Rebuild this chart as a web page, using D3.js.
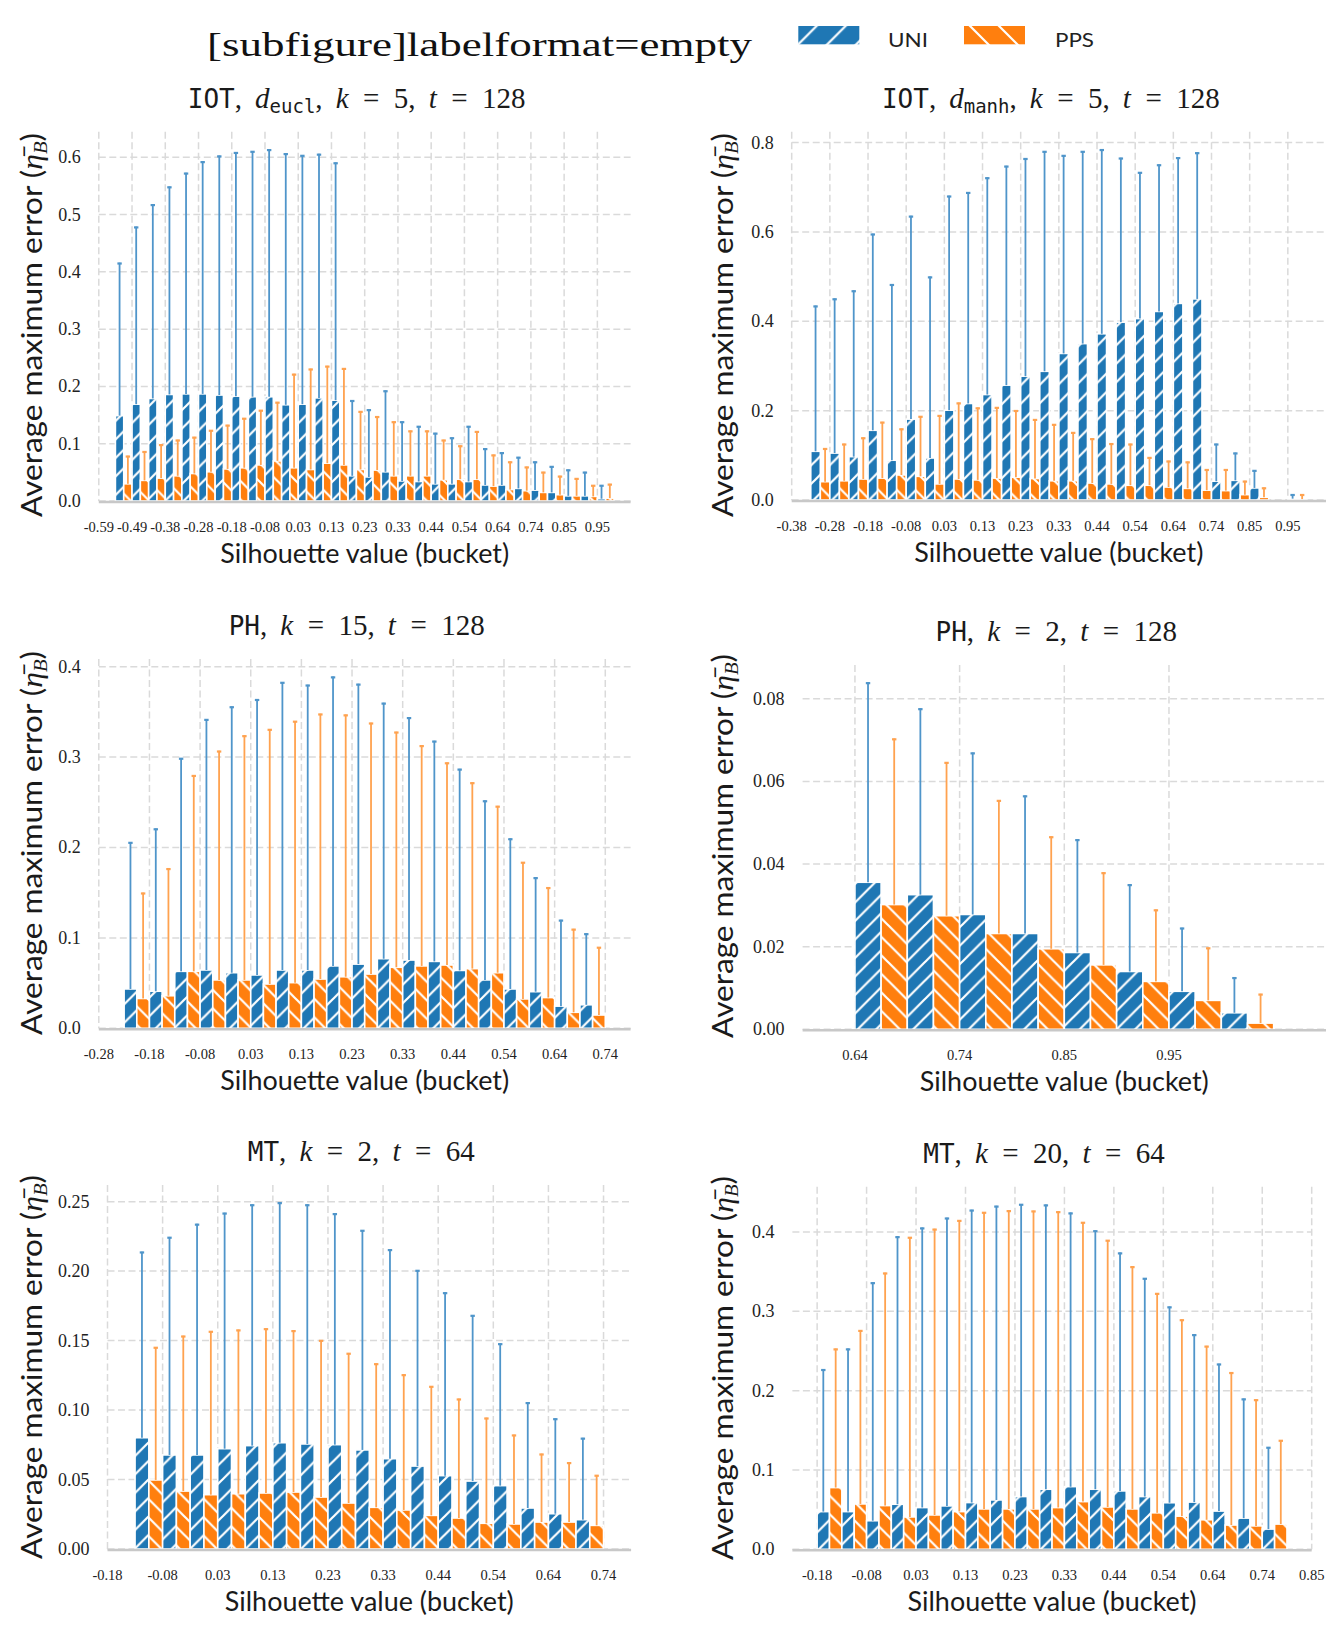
<!DOCTYPE html>
<html><head><meta charset="utf-8">
<script src="https://cdn.jsdelivr.net/npm/d3@7"></script>
<style>body{margin:0;background:#fff}</style>
</head><body>
<svg id="fig" width="1339" height="1630" xmlns="http://www.w3.org/2000/svg"></svg>
<script>
// ---------------- DATA (bucket index k: edge = -1 + k*2/39) ----------------
const seriesNames = ["UNI", "PPS"];

// IOT, d_eucl, k=5, t=128  (buckets k=9..38)
const iotEuclStart = 9;
const iotEuclUni      = [0.149,0.169,0.179,0.186,0.187,0.187,0.185,0.183,0.182,0.182,0.168,0.169,0.180,0.176,0.044,0.042,0.051,0.035,0.034,0.030,0.030,0.034,0.028,0.028,0.022,0.019,0.015,0.009,0.009,0.004];
const iotEuclUniUpper = [0.416,0.479,0.518,0.549,0.573,0.593,0.603,0.609,0.611,0.614,0.607,0.604,0.606,0.591,0.176,0.160,0.193,0.139,0.131,0.119,0.111,0.131,0.092,0.085,0.077,0.069,0.061,0.055,0.051,0.028];
const iotEuclPps      = [0.030,0.036,0.040,0.044,0.048,0.051,0.056,0.058,0.063,0.070,0.058,0.055,0.066,0.063,0.055,0.054,0.044,0.044,0.044,0.037,0.038,0.038,0.026,0.020,0.018,0.015,0.011,0.009,0.008,0.005];
const iotEuclPpsUpper = [0.079,0.087,0.099,0.107,0.112,0.124,0.133,0.145,0.159,0.173,0.222,0.231,0.236,0.232,0.157,0.148,0.139,0.123,0.123,0.107,0.097,0.122,0.081,0.069,0.060,0.051,0.044,0.040,0.028,0.030];

// IOT, d_manh, k=5, t=128  (buckets k=13..38, k=37 empty)
const iotManhStart = 13;
const iotManhUni      = [0.109,0.105,0.097,0.156,0.089,0.181,0.094,0.201,0.216,0.236,0.257,0.277,0.288,0.328,0.350,0.372,0.398,0.406,0.422,0.440,0.450,0.042,0.044,0.027,null,0.003];
const iotManhUniUpper = [0.435,0.451,0.469,0.596,0.483,0.636,0.500,0.681,0.689,0.722,0.748,0.765,0.781,0.772,0.781,0.785,0.766,0.734,0.751,0.767,0.778,0.126,0.106,0.067,null,0.013];
const iotManhPps      = [0.041,0.043,0.047,0.049,0.056,0.053,0.036,0.047,0.045,0.049,0.051,0.048,0.043,0.043,0.038,0.036,0.033,0.033,0.029,0.026,0.022,0.021,0.012,0.006,null,0.002];
const iotManhPpsUpper = [0.116,0.126,0.140,0.175,0.160,0.188,0.190,0.218,0.207,0.208,0.201,0.181,0.170,0.152,0.138,0.127,0.126,0.096,0.088,0.086,0.069,0.069,0.043,0.028,null,0.013];

// PH, k=15, t=128  (buckets k=15..33)
const ph15Start = 15;
const ph15Uni      = [0.0435,0.041,0.063,0.0645,0.0615,0.059,0.0645,0.0645,0.069,0.071,0.077,0.0755,0.074,0.064,0.0535,0.0435,0.0405,0.0245,0.026];
const ph15UniUpper = [0.206,0.221,0.299,0.342,0.356,0.364,0.383,0.380,0.389,0.381,0.360,0.344,0.318,0.287,0.252,0.210,0.167,0.120,0.105];
const ph15Pps      = [0.033,0.036,0.063,0.0535,0.0535,0.049,0.0505,0.0545,0.057,0.060,0.0675,0.069,0.070,0.066,0.0615,0.0325,0.034,0.0177,0.0147];
const ph15PpsUpper = [0.150,0.177,0.280,0.307,0.324,0.331,0.340,0.348,0.347,0.338,0.328,0.313,0.294,0.272,0.246,0.184,0.156,0.110,0.090];

// PH, k=2, t=128  (buckets k=32..39)
const ph2Start = 32;
const ph2Uni      = [0.0356,0.0326,0.0278,0.0232,0.0186,0.0140,0.0092,0.0040];
const ph2UniUpper = [0.0840,0.0777,0.0670,0.0566,0.0460,0.0351,0.0246,0.0126];
const ph2Pps      = [0.0302,0.0275,0.0232,0.0195,0.0156,0.0116,0.0070,0.0015];
const ph2PpsUpper = [0.0704,0.0647,0.0555,0.0467,0.0380,0.0290,0.0198,0.0086];

// MT, k=2, t=64  (buckets k=17..33)
const mt2Start = 17;
const mt2Uni      = [0.0801,0.0677,0.0677,0.0722,0.0744,0.0765,0.0756,0.0751,0.0713,0.0650,0.0597,0.0528,0.0489,0.0456,0.0295,0.0254,0.0211];
const mt2UniUpper = [0.214,0.2246,0.234,0.242,0.248,0.2495,0.248,0.2416,0.2296,0.2157,0.2008,0.1847,0.1684,0.148,0.1056,0.094,0.080];
const mt2Pps      = [0.0497,0.0417,0.0391,0.0398,0.0403,0.0410,0.0374,0.0331,0.0300,0.0281,0.0242,0.0223,0.0185,0.0180,0.0194,0.0194,0.0170];
const mt2PpsUpper = [0.1454,0.1535,0.1569,0.1579,0.1588,0.1574,0.1504,0.1411,0.1336,0.1257,0.1173,0.1082,0.0945,0.0823,0.0686,0.0624,0.0533];

// MT, k=20, t=64  (buckets k=16..34)
const mt20Start = 16;
const mt20Uni      = [0.0475,0.0475,0.036,0.0568,0.0526,0.0547,0.0589,0.0622,0.0665,0.0757,0.079,0.0757,0.0736,0.0665,0.0587,0.0595,0.0482,0.0393,0.0255];
const mt20UniUpper = [0.227,0.253,0.3365,0.3945,0.4055,0.418,0.428,0.433,0.4353,0.4345,0.4244,0.402,0.374,0.342,0.306,0.271,0.234,0.190,0.129];
const mt20Pps      = [0.0778,0.0572,0.0551,0.0408,0.0433,0.0475,0.0509,0.0509,0.0509,0.0526,0.0601,0.0534,0.0509,0.046,0.0418,0.0372,0.0306,0.0295,0.0318];
const mt20PpsUpper = [0.253,0.2763,0.3487,0.3937,0.404,0.415,0.4252,0.4273,0.4269,0.426,0.4126,0.390,0.3567,0.3230,0.2898,0.2565,0.2232,0.1890,0.1378];

// y tick values per panel
const iotEuclYTicks = [0,0.1,0.2,0.3,0.4,0.5,0.6];
const iotManhYTicks = [0,0.2,0.4,0.6,0.8];
const ph15YTicks = [0,0.1,0.2,0.3,0.4];
const ph2YTicks = [0,0.02,0.04,0.06,0.08];
const mt2YTicks = [0,0.05,0.10,0.15,0.20,0.25];
const mt20YTicks = [0,0.1,0.2,0.3,0.4];

// panel title parts: [dataset, subscript or null, k, t]
const titleParts = [["IOT","eucl","5","128"],["IOT","manh","5","128"],["PH",null,"15","128"],["PH",null,"2","128"],["MT",null,"2","64"],["MT",null,"20","64"]];

// ---------------- LAYOUT ----------------
const BLUE = "#1f77b4", ORANGE = "#ff7f0e";
const BLUE_ERR = "#4f95ca", ORANGE_ERR = "#ffa24f";
const SANS = "Lato, 'Open Sans', sans-serif";
const SERIF = "'Liberation Serif', 'DejaVu Serif', serif";
const MONO = "'DejaVu Sans Mono', 'Liberation Mono', monospace";

const panels = [
  {start: iotEuclStart, uni: iotEuclUni, uniU: iotEuclUniUpper, pps: iotEuclPps, ppsU: iotEuclPpsUpper, yt: iotEuclYTicks, fmt: ".1f",
   left: 98.8, right: 630.6, top: 131.7, bottom: 501, ylc: 325},
  {start: iotManhStart, uni: iotManhUni, uniU: iotManhUniUpper, pps: iotManhPps, ppsU: iotManhPpsUpper, yt: iotManhYTicks, fmt: ".1f",
   left: 791.7, right: 1326, top: 131.7, bottom: 500, ylc: 325},
  {start: ph15Start, uni: ph15Uni, uniU: ph15UniUpper, pps: ph15Pps, ppsU: ph15PpsUpper, yt: ph15YTicks, fmt: ".1f",
   left: 98.8, right: 630.6, top: 659, bottom: 1028.3, ylc: 843},
  {start: ph2Start, uni: ph2Uni, uniU: ph2UniUpper, pps: ph2Pps, ppsU: ph2PpsUpper, yt: ph2YTicks, fmt: ".2f",
   left: 802.6, right: 1326, top: 665, bottom: 1029.3, ylc: 846},
  {start: mt2Start, uni: mt2Uni, uniU: mt2UniUpper, pps: mt2Pps, ppsU: mt2PpsUpper, yt: mt2YTicks, fmt: ".2f",
   left: 107.5, right: 631.1, top: 1185, bottom: 1549, ylc: 1367},
  {start: mt20Start, uni: mt20Uni, uniU: mt20UniUpper, pps: mt20Pps, ppsU: mt20PpsUpper, yt: mt20YTicks, fmt: ".1f",
   left: 792.4, right: 1311.7, top: 1186.7, bottom: 1549.3, ylc: 1368}
];

const svg = d3.select("#fig");
svg.append("rect").attr("width",1339).attr("height",1630).attr("fill","#fff");

// hatch patterns
const defs = svg.append("defs");
function hatch(id, color, size, forward, ox, oy) {
  const p = defs.append("pattern").attr("id", id).attr("patternUnits","userSpaceOnUse")
    .attr("width", size).attr("height", size).attr("x", ox||0).attr("y", oy||0);
  p.append("rect").attr("width", size).attr("height", size).attr("fill", color);
  const s = size, h = s/2;
  const d = forward
    ? `M${-h},${h} L${h},${-h} M0,${s} L${s},0 M${h},${s+h} L${s+h},${h}`
    : `M${-h},${h} L${h},${s+h} M0,0 L${s},${s} M${h},${-h} L${s+h},${h}`;
  p.append("path").attr("d", d).attr("stroke","#fff").attr("stroke-width", 2.2).attr("fill","none");
}
hatch("hBlue", BLUE, 18.5, true);
hatch("hOrange", ORANGE, 18.5, false);
hatch("lBlue", BLUE, 29, true, 798.3, 44.3);
hatch("lOrange", ORANGE, 29, false, 970, 26);

// ---------------- TITLES / LEGEND ----------------
svg.append("text").attr("x", 207).attr("y", 56)
  .attr("font-family", SERIF).attr("font-size", 33).attr("fill","#111")
  .attr("textLength", 545).attr("lengthAdjust","spacingAndGlyphs")
  .text("[subfigure]labelformat=empty");

svg.append("rect").attr("x",798.3).attr("y",26).attr("width",61).attr("height",18.3).attr("fill","url(#lBlue)");
svg.append("rect").attr("x",964).attr("y",26).attr("width",61).attr("height",18.3).attr("fill","url(#lOrange)");
svg.append("text").attr("x",888).attr("y",46.5).attr("font-family",SANS).attr("font-size",20).attr("fill","#222")
  .attr("textLength",40).attr("lengthAdjust","spacingAndGlyphs").text(seriesNames[0]);
svg.append("text").attr("x",1055).attr("y",46.5).attr("font-family",SANS).attr("font-size",20).attr("fill","#222")
  .attr("textLength",39).attr("lengthAdjust","spacingAndGlyphs").text(seriesNames[1]);

function edgeLabel(k) { return (-1 + k*2/39).toFixed(2); }

function panelTitle(g, parts, cx, cy) {
  const [ds, sub, kv, tv] = parts;
  const t = g.append("text").attr("x", cx).attr("y", cy).attr("text-anchor","middle")
    .attr("font-family", SERIF).attr("font-size", 29).attr("fill","#1a1a1a");
  const it = s => t.append("tspan").attr("font-style","italic").text(s);
  const rm = s => t.append("tspan").text(s);
  const SEP = ", \u2009", EQ = "\u2002=\u2002";
  t.append("tspan").attr("font-family", MONO).attr("font-size", 26).text(ds);
  rm(SEP);
  if (sub) {
    it("d");
    t.append("tspan").attr("font-family", MONO).attr("font-size", 19).attr("dy", 5).text(sub);
    t.append("tspan").attr("dy", -5).text(SEP);
  }
  it("k"); rm(EQ + kv + SEP); it("t"); rm(EQ + tv);
}

panels.forEach((p, pi) => {
  const g = svg.append("g");
  const n = p.uni.length;
  const x = d3.scaleLinear().domain([p.start - 1, p.start + n + 1]).range([p.left, p.right]);
  const yMax = d3.max(p.uniU.concat(p.ppsU).filter(v => v != null)) * 1.05;
  const y = d3.scaleLinear().domain([0, yMax]).range([p.bottom, p.top]);

  // x ticks: even bucket edges within domain, up to k=38
  const kTicks = d3.range(Math.ceil((p.start - 1)/2)*2, Math.min(38, p.start + n + 1) + 1, 2);

  const dash = "7,3.5";
  g.selectAll(".hg").data(p.yt).join("line")
    .attr("x1", p.left).attr("x2", p.right).attr("y1", d => y(d)).attr("y2", d => y(d))
    .attr("stroke","#dadada").attr("stroke-width",1.5).attr("stroke-dasharray",dash);
  g.selectAll(".vg").data(kTicks).join("line")
    .attr("x1", d => x(d)).attr("x2", d => x(d)).attr("y1", p.top).attr("y2", p.bottom)
    .attr("stroke","#dadada").attr("stroke-width",1.5).attr("stroke-dasharray",dash);

  const fmt = d3.format(p.fmt);
  g.selectAll(".yl").data(p.yt).join("text")
    .attr("x", p.left - 18).attr("y", d => y(d) + 6).attr("text-anchor","end")
    .attr("font-family", SERIF).attr("font-size", 18).attr("fill","#222").text(d => fmt(d));
  g.selectAll(".xl").data(kTicks).join("text")
    .attr("x", d => x(d)).attr("y", p.bottom + 31).attr("text-anchor","middle")
    .attr("font-family", SERIF).attr("font-size", 14.5).attr("fill","#222").text(d => edgeLabel(d));

  const rows = [];
  for (let i = 0; i < n; i++) {
    const k = p.start + i;
    if (p.uni[i] != null) rows.push({x0: k, x1: k + 0.5, v: p.uni[i], u: p.uniU[i], fill: "url(#hBlue)", err: BLUE_ERR});
    if (p.pps[i] != null) rows.push({x0: k + 0.5, x1: k + 1, v: p.pps[i], u: p.ppsU[i], fill: "url(#hOrange)", err: ORANGE_ERR});
  }
  g.selectAll(".bar").data(rows).join("rect")
    .attr("x", d => x(d.x0)).attr("width", d => x(d.x1) - x(d.x0))
    .attr("y", d => y(d.v)).attr("height", d => y(0) - y(d.v))
    .attr("fill", d => d.fill).attr("stroke","#fff").attr("stroke-width",1.6);

  const cx = d => (x(d.x0) + x(d.x1)) / 2;
  g.selectAll(".eb").data(rows).join("line")
    .attr("x1", cx).attr("x2", cx).attr("y1", d => y(d.v)).attr("y2", d => y(d.u))
    .attr("stroke", d => d.err).attr("stroke-width", 1.8);
  g.selectAll(".ec").data(rows).join("line")
    .attr("x1", d => cx(d) - 2.2).attr("x2", d => cx(d) + 2.2).attr("y1", d => y(d.u) + 0.8).attr("y2", d => y(d.u) + 0.8)
    .attr("stroke", d => d.err).attr("stroke-width", 2.2);

  g.append("line").attr("x1", p.left).attr("x2", p.right).attr("y1", p.bottom + 1).attr("y2", p.bottom + 1)
    .attr("stroke","#c8c8c8").attr("stroke-width",2.5);

  const pcx = (p.left + p.right) / 2;
  g.append("text").attr("x", pcx).attr("y", p.bottom + 62).attr("text-anchor","middle")
    .attr("font-family", SANS).attr("font-size", 27).attr("fill","#1a1a1a")
    .attr("textLength", 289).attr("lengthAdjust","spacingAndGlyphs")
    .text("Silhouette value (bucket)");

  const ylx = (pi % 2 === 0) ? 32 : 723;
  const yl = g.append("text").attr("transform", `translate(${ylx + 10},${p.ylc}) rotate(-90)`)
    .attr("text-anchor","middle").attr("font-family", SANS).attr("font-size", 29).attr("fill","#1a1a1a")
    .attr("textLength", 384).attr("lengthAdjust","spacingAndGlyphs");
  yl.append("tspan").text("Average maximum error (");
  yl.append("tspan").attr("font-family", SERIF).attr("font-style","italic").text("\u03B7\u0304");
  yl.append("tspan").attr("font-family", SERIF).attr("font-style","italic").attr("font-size",19).attr("dy",5).text("B");
  yl.append("tspan").attr("dy",-5).text(")");

  panelTitle(g, titleParts[pi], pcx - 8, p.top - 24);
});
</script>
</body></html>
